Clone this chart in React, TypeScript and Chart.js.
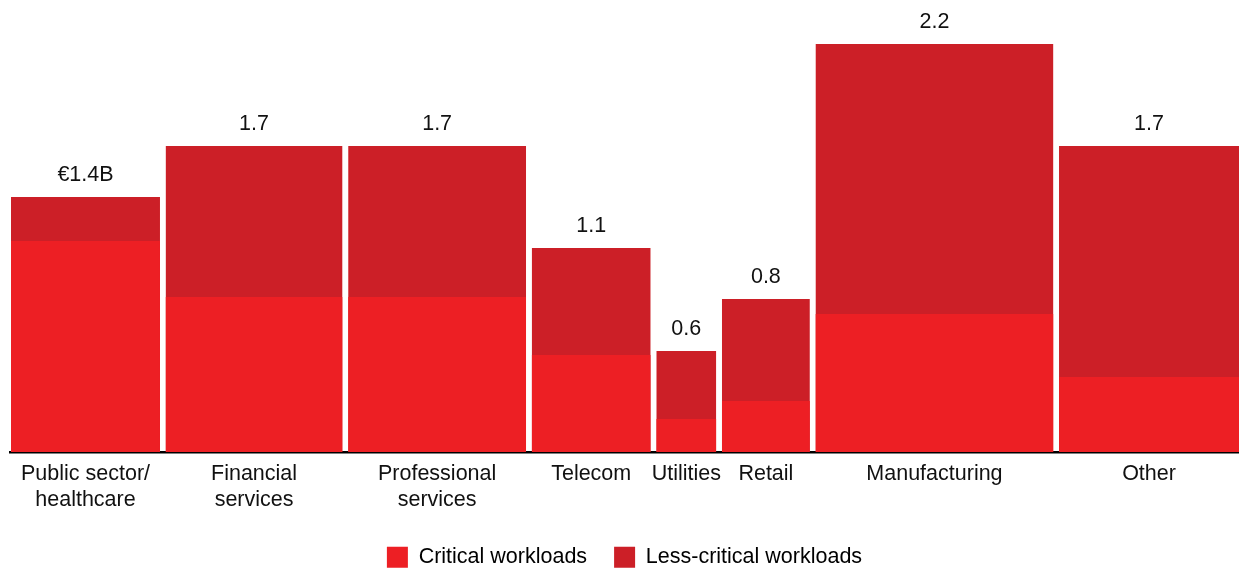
import React, { useEffect, useRef } from "react";
import { Chart, registerables } from "chart.js";

Chart.register(...registerables);

const categories: string[][] = [
  ["Public sector/", "healthcare"],
  ["Financial", "services"],
  ["Professional", "services"],
  ["Telecom"],
  ["Utilities"],
  ["Retail"],
  ["Manufacturing"],
  ["Other"],
];
// relative width of each column (share)
const segmentWidths: number[] = [149, 177, 178, 119, 60, 88, 238, 180];
// total value per column (€B)
const totalValues: number[] = [1.375, 1.65, 1.65, 1.1, 0.545, 0.825, 2.2, 1.65];
// critical workloads part (€B)
const criticalValues: number[] = [1.138, 0.836, 0.836, 0.523, 0.178, 0.275, 0.744, 0.404];
// labels shown above columns
const totalLabels: string[] = ["€1.4B", "1.7", "1.7", "1.1", "0.6", "0.8", "2.2", "1.7"];
const seriesNames: string[] = ["Critical workloads", "Less-critical workloads"];

const COLOR_CRIT = "#ED1F24";
const COLOR_LESS = "#CC1F27";
const GAP = 5.6;
const START = 1;
const FONT = "'Liberation Sans', Arial, Helvetica, sans-serif";
const FS = 21.5;

export default function App() {
  const ref = useRef<HTMLCanvasElement>(null);
  useEffect(() => {
    document.body.style.margin = "0";
    const starts: number[] = [];
    let pos = START;
    segmentWidths.forEach((w) => {
      starts.push(pos);
      pos += w + GAP;
    });
    const xMax = pos - GAP;
    const centers = starts.map((s, i) => s + segmentWidths[i] / 2);

    const mk = (vals: number[], color: string, name: string) =>
      vals.map((v, i) => ({
        label: name,
        data: [
          { x: starts[i], y: v },
          { x: starts[i] + segmentWidths[i], y: v },
        ],
        borderWidth: 0,
        borderColor: color,
        backgroundColor: color,
        pointRadius: 0,
        pointHoverRadius: 0,
        fill: "origin",
        tension: 0,
      }));

    const datasets: any[] = [
      ...mk(criticalValues, COLOR_CRIT, seriesNames[0]),
      ...mk(totalValues, COLOR_LESS, seriesNames[1]),
    ];

    const valueLabels = {
      id: "valueLabels",
      afterDatasetsDraw(chart: any) {
        const { ctx, scales } = chart;
        ctx.save();
        ctx.font = `${FS}px ${FONT}`;
        ctx.fillStyle = "#111";
        ctx.textAlign = "center";
        ctx.textBaseline = "middle";
        totalValues.forEach((v, i) => {
          const x = scales.x.getPixelForValue(centers[i]);
          const y = scales.y.getPixelForValue(v);
          ctx.fillText(totalLabels[i], x, y - 21.5);
        });
        ctx.restore();
      },
    };

    const chart = new Chart(ref.current!, {
      type: "line",
      data: { datasets },
      options: {
        animation: false,
        responsive: false,
        layout: { padding: { top: 44, left: 10, right: 0, bottom: -7 } },
        plugins: {
          tooltip: { enabled: false },
          legend: {
            position: "bottom",
            labels: {
              font: { family: FONT, size: FS },
              color: "#111",
              boxWidth: 21,
              boxHeight: 21,
              padding: 27,
              generateLabels: () =>
                seriesNames.map((n, i) => ({
                  text: n,
                  fillStyle: i === 0 ? COLOR_CRIT : COLOR_LESS,
                  strokeStyle: i === 0 ? COLOR_CRIT : COLOR_LESS,
                  lineWidth: 0,
                  hidden: false,
                  datasetIndex: i,
                })),
            },
          },
        },
        scales: {
          x: {
            type: "linear",
            min: 0,
            max: xMax,
            z: 1,
            grid: { display: false, drawTicks: false },
            border: { display: true, color: "#000", width: 2.5 },
            afterBuildTicks: (scale: any) => {
              scale.ticks = centers.map((c) => ({ value: c }));
            },
            afterFit: (scale: any) => {
              scale.height = 67.5;
            },
            ticks: {
              autoSkip: false,
              maxRotation: 0,
              minRotation: 0,
              padding: 9,
              color: "#111",
              font: { family: FONT, size: FS, lineHeight: 1.21 },
              callback: (_v: any, i: number) => categories[i],
            },
          },
          y: {
            display: false,
            min: 0,
            max: 2.2,
          },
        },
      },
      plugins: [valueLabels],
    });
    return () => chart.destroy();
  }, []);
  return <canvas ref={ref} width={1239} height={571} style={{ display: "block" }} />;
}
